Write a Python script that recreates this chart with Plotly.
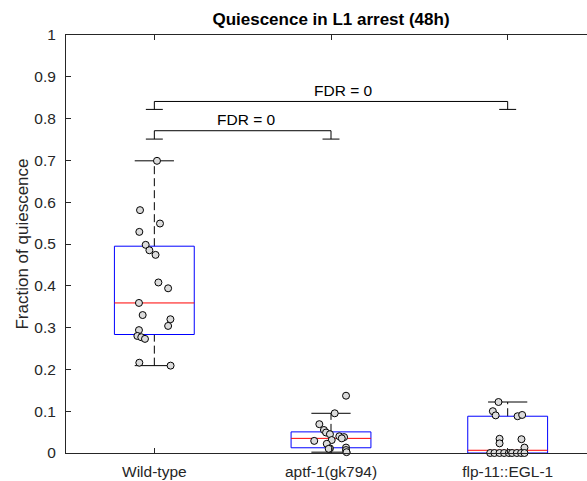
import numpy as np
import plotly.graph_objects as go

# Groups and measured fraction of quiescence per animal
categories = ["Wild-type", "aptf-1(gk794)", "flp-11::EGL-1"]

wt_values = [0.699, 0.581, 0.549, 0.529, 0.498, 0.485, 0.474, 0.408, 0.394, 0.359,
             0.330, 0.320, 0.304, 0.294, 0.280, 0.277, 0.273, 0.216, 0.209]
wt_jitter = [0.015, -0.081, 0.032, -0.085, -0.049, -0.028, 0.007, 0.023, 0.078, -0.087,
             -0.066, 0.091, 0.078, -0.087, -0.096, -0.074, -0.053, -0.085, 0.092]

aptf_values = [0.137, 0.095, 0.069, 0.055, 0.049, 0.045, 0.040, 0.038, 0.035, 0.031,
               0.029, 0.022, 0.013, 0.011, 0.010, 0.007, 0.002]
aptf_jitter = [0.085, 0.021, -0.066, -0.040, -0.028, -0.006, 0.047, 0.074, 0.061, 0.004,
               -0.095, -0.024, 0.085, -0.006, -0.013, 0.085, 0.088]

flp_values = [0.122, 0.100, 0.090, 0.088, 0.091, 0.034, 0.023, 0.033, 0.013,
              0.0, 0.0, 0.0, 0.0, 0.0, 0.0, 0.0, 0.0, 0.0]
flp_jitter = [-0.052, -0.084, -0.068, 0.056, 0.082, -0.046, -0.046, 0.078, 0.095,
              -0.099, -0.075, -0.046, -0.020, 0.007, 0.025, 0.052, 0.076, 0.095]

groups = [wt_values, aptf_values, flp_values]
jitters = [wt_jitter, aptf_jitter, flp_jitter]

# Pairwise comparisons: (group a, group b, bracket height, leg bottom, label)
comparisons = [
    (1, 2, 0.771, 0.751, "FDR = 0"),
    (1, 3, 0.841, 0.822, "FDR = 0"),
]
label_shift_px = [4, 12]

y_ticks = [0, 0.1, 0.2, 0.3, 0.4, 0.5, 0.6, 0.7, 0.8, 0.9, 1]
y_tick_labels = ["0", "0.1", "0.2", "0.3", "0.4", "0.5", "0.6", "0.7", "0.8", "0.9", "1"]

BOX_HALF = 0.226
CAP_HALF = 0.111
FOOT_HALF = 0.048
AX = "#262626"
FONT = "Liberation Sans, Arial, sans-serif"

fig = go.Figure()


def box_stats(vals):
    v = np.asarray(vals, dtype=float)
    q1, med, q3 = np.percentile(v, [25, 50, 75], method="hazen")
    iqr = q3 - q1
    upper = v[v <= q3 + 1.5 * iqr].max()
    lower = v[v >= q1 - 1.5 * iqr].min()
    return q1, med, q3, lower, upper


def seg(xs, ys, color, dash="solid", width=1):
    fig.add_trace(go.Scatter(x=xs, y=ys, mode="lines",
                             line=dict(color=color, width=width, dash=dash),
                             hoverinfo="skip", showlegend=False))


# Box-and-whisker glyphs
for i, vals in enumerate(groups):
    p = i + 1
    q1, med, q3, lo, hi = box_stats(vals)
    seg([p, p], [q3, hi], "black", dash="8px,4px")
    seg([p, p], [lo, q1], "black", dash="8px,4px")
    seg([p - CAP_HALF, p + CAP_HALF], [hi, hi], "black")
    seg([p - CAP_HALF, p + CAP_HALF], [lo, lo], "black")
    seg([p - BOX_HALF, p + BOX_HALF, p + BOX_HALF, p - BOX_HALF, p - BOX_HALF],
        [q1, q1, q3, q3, q1], "#0000ff")
    seg([p - BOX_HALF, p + BOX_HALF], [med, med], "#ff0000")

# Individual animals, jittered around the group position
for i, (vals, jit) in enumerate(zip(groups, jitters)):
    p = i + 1
    fig.add_trace(go.Scatter(
        x=[p + j for j in jit], y=vals, mode="markers", cliponaxis=False,
        marker=dict(symbol="circle", size=7, color="#dcdcdc",
                    line=dict(color="black", width=1)),
        hoverinfo="skip", showlegend=False))

# Significance brackets
for (a, b, top, foot, txt), shift in zip(comparisons, label_shift_px):
    seg([a, a, b, b], [foot, top, top, foot], "black")
    seg([a - FOOT_HALF, a + FOOT_HALF], [foot, foot], "black")
    seg([b - FOOT_HALF, b + FOOT_HALF], [foot, foot], "black")
    fig.add_annotation(x=(a + b) / 2, y=top, text=txt, showarrow=False,
                       xshift=shift, yshift=11, yanchor="middle",
                       font=dict(family=FONT, size=15.5, color="black"))

fig.update_layout(
    width=587, height=481,
    margin=dict(l=66, r=0, t=35, b=28),
    paper_bgcolor="white", plot_bgcolor="white",
    title=dict(text="<b>Quiescence in L1 arrest (48h)</b>",
               x=331 / 587, xanchor="center", xref="container",
               y=1 - 19 / 481, yanchor="middle", yref="container",
               font=dict(family=FONT, size=17, color="black")),
    font=dict(family=FONT, size=15.5, color=AX),
    showlegend=False,
)
fig.update_xaxes(
    range=[0.5, 3.449], tickvals=[1, 2, 3], ticktext=categories,
    showline=True, linecolor=AX, linewidth=1, mirror="ticks",
    ticks="inside", ticklen=5, tickcolor=AX, showgrid=False, zeroline=False,
    ticklabelstandoff=4,
    tickfont=dict(family=FONT, size=15.5, color=AX),
)
fig.update_yaxes(
    range=[0, 1], tickvals=y_ticks, ticktext=y_tick_labels,
    showline=True, linecolor=AX, linewidth=1,
    ticks="inside", ticklen=5, tickcolor=AX, showgrid=False, zeroline=False,
    ticklabelstandoff=6,
    tickfont=dict(family=FONT, size=15.5, color=AX),
    title=dict(text="Fraction of quiescence", standoff=1,
               font=dict(family=FONT, size=17, color=AX)),
)

fig.write_html("out.html")
